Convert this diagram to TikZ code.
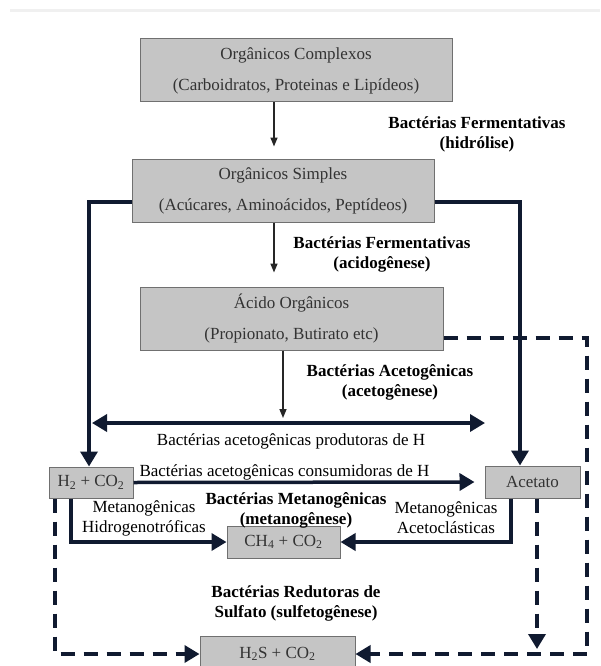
\documentclass[tikz,border=0pt]{standalone}
\usepackage{fontspec}
\setmainfont{Liberation Serif}
\usetikzlibrary{arrows.meta,positioning,calc}
\definecolor{boxgray}{RGB}{197,197,197}
\definecolor{edgegray}{RGB}{112,112,112}
\definecolor{navy}{RGB}{16,26,48}

\begin{document}
\begin{tikzpicture}[
            x=1pt, y=-1pt,
            every node/.style={on grid},
            stage/.style={draw=edgegray,fill=boxgray,line width=1pt,align=center,
                font=\fontsize{17}{31}\selectfont,text=black!80,inner sep=0pt},
            tag/.style={align=center,font=\fontsize{17}{20}\selectfont},
            boldtag/.style={align=center,font=\fontsize{17}{20}\selectfont\bfseries},
            flow/.style={draw=navy,line width=3.5pt,-{Triangle[length=15pt,width=17pt]}},
            sulf/.style={flow,dash pattern=on 14pt off 9pt},
            feed/.style={draw=black!85,line width=1.5pt,-{Triangle[length=9pt,width=7pt]}}
        ]

        % Frame %
        \useasboundingbox (0,0) rectangle (600,666);
        \clip (0,0) rectangle (600,666);
        \fill[white] (0,0) rectangle (600,666);
        \draw[line width=3pt,gray!12] (10,11) -- (600,11);

        % Draw stages %
        \node[stage,minimum width=312pt,minimum height=63pt] (cplx) at (296,70.5) {Orgânicos Complexos\\(Carboidratos, Proteinas e Lipídeos)};
        \node[stage,minimum width=302pt,minimum height=63pt,below left=120pt and 13pt of cplx] (simp) {Orgânicos Simples\\(Acúcares, Aminoácidos, Peptídeos)};
        \node[stage,minimum width=303pt,minimum height=63pt,below right=128pt and 8.5pt of simp] (acid) {Ácido Orgânicos\\(Propionato, Butirato etc)};
        \node[stage,minimum width=113pt,minimum height=32pt,below left=223.5pt and 8pt of acid] (ch4) {CH\textsubscript{4} + CO\textsubscript{2}};
        \node[stage,minimum width=84pt,minimum height=31pt,above left=59.5pt and 192.5pt of ch4] (h2) {H\textsubscript{2} + CO\textsubscript{2}};
        \node[stage,minimum width=95pt,minimum height=32pt,above right=60pt and 249pt of ch4] (acet) {Acetato};
        \node[stage,minimum width=155pt,minimum height=36pt,below left=112pt and 6pt of ch4] (h2s) {H\textsubscript{2}S + CO\textsubscript{2}};

        % Draw labels %
        \node[boldtag] (hidrol) at (477,134.5) {Bactérias Fermentativas\\(hidrólise)};
        \node[boldtag] (acidog) at (382,254) {Bactérias Fermentativas\\(acidogênese)};
        \node[boldtag] (acetog) at (390,382) {Bactérias Acetogênicas\\(acetogênese)};
        \node[boldtag] (metanog) at (296,510) {Bactérias Metanogênicas\\(metanogênese)};
        \node[tag] (hidrog) at (144,518) {Metanogênicas\\Hidrogenotróficas};
        \node[tag] (acetoc) at (446,517.5) {Metanogênicas\\Acetoclásticas};
        \node[boldtag] (sulfog) at (296,603) {Bactérias Redutoras de\\Sulfato (sulfetogênese)};

        % Draw arrows %
        \draw[feed,shorten >=12pt] ([xshift=-22pt]cplx.south) -- ([xshift=-9pt]simp.north);
        \draw[feed,shorten >=14pt] ([xshift=-9pt]simp.south) -- ([xshift=-17.5pt]acid.north);
        \draw[flow] ([yshift=-11.5pt]simp.west) -| ([xshift=-2pt]h2.north);
        \draw[flow] ([yshift=-11.5pt]simp.east) -| ([xshift=-12.5pt]acet.north);

        \coordinate (prodL) at (92,423);
        \coordinate (prodR) at (485,423);
        \coordinate (acidout) at ([xshift=-8.5pt]acid.south);
        \draw[flow,{Triangle[length=15pt,width=17pt]}-{Triangle[length=15pt,width=17pt]}] (prodL) -- node[tag,xshift=2.5pt,yshift=-18pt] {Bactérias acetogênicas produtoras de H} (prodR);
        \draw[feed,shorten >=5pt] (acidout) -- (acidout |- prodL);

        \draw[flow,shorten >=10pt] (h2.east) -- node[tag,pos=0.43,above,inner sep=0pt] {Bactérias acetogênicas consumidoras de H} (acet.west);
        \draw[flow] ([xshift=-20pt]h2.south) |- (ch4.west);
        \draw[flow] ([xshift=-21.5pt]acet.south) |- (ch4.east);

        % Draw dashed paths %
        \coordinate (sulfR) at (587,654);
        \coordinate (acetdrop) at ([xshift=4.5pt]acet.south);
        \draw[sulf] ([yshift=-19.5pt]acid.east) -| (sulfR) -- (h2s.east);
        \draw[sulf] ([xshift=-36pt]h2.south) |- (h2s.west);
        \draw[sulf,shorten >=5pt] (acetdrop) -- (acetdrop |- h2s.east);
\end{tikzpicture}
\end{document}
